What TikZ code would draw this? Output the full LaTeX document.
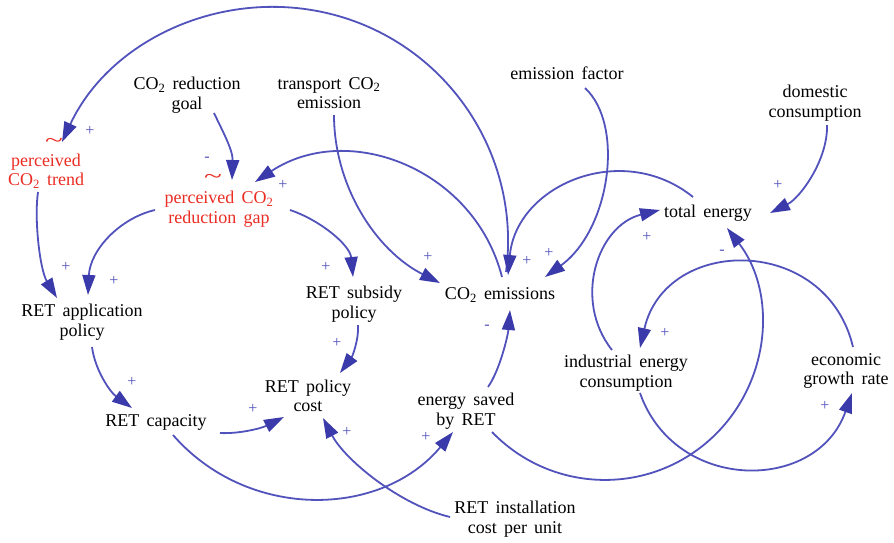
\documentclass[tikz,border=0pt]{standalone}
\usepackage{fontspec}
\setmainfont{Liberation Serif}[WordSpace=1.6]
\usetikzlibrary{arrows.meta,calc}
\definecolor{arrowblue}{RGB}{82,82,188}
\definecolor{headblue}{RGB}{58,58,170}
\definecolor{varred}{RGB}{235,45,35}
\tikzset{
 var/.style={align=center, font=\fontsize{18}{19.5}\selectfont, inner sep=0pt, text=black},
 redvar/.style={var, text=varred},
 tildemark/.style={font=\fontsize{22}{22}\selectfont, text=varred, inner sep=0pt, xscale=1.5},
 link/.style={draw=arrowblue, line width=1.8pt, -{Triangle[length=20pt,width=13pt,color=headblue]}},
 pol/.style={font=\fontsize{16}{16}\selectfont, text=arrowblue, inner sep=0pt},
}
\begin{document}
\begin{tikzpicture}[x=1pt,y=-1pt]
\useasboundingbox[fill=white] (0,0) rectangle (894,542);
% variables
\node[var] (goal) at (187,95) {CO\textsubscript{2} reduction\\goal};
\node[var] (transport) at (329,93) {transport CO\textsubscript{2}\\emission};
\node[var] (factor) at (567,73) {emission factor};
\node[var] (domestic) at (815,103) {domestic\\consumption};
\node[redvar] (trend) at (46,171) {perceived\\CO\textsubscript{2} trend};
\node[redvar] (gap) at (219,209) {perceived CO\textsubscript{2}\\reduction gap};
\node[tildemark] (tilde1) at (54,143) {\textasciitilde};
\node[tildemark] (tilde2) at (213,179) {\textasciitilde};
\node[var] (total) at (708,213) {total energy};
\node[var] (app) at (82,322) {RET application\\policy};
\node[var] (subsidy) at (354,304) {RET subsidy\\policy};
\node[var] (co2) at (500,295) {CO\textsubscript{2} emissions};
\node[var] (industrial) at (626,373) {industrial energy\\consumption};
\node[var] (growth) at (846,371) {economic\\growth rate};
\node[var] (cost) at (308,396) {RET policy\\cost};
\node[var] (capacity) at (156,422) {RET capacity};
\node[var] (saved) at (466,411) {energy saved\\by RET};
\node[var] (install) at (515,519) {RET installation\\cost per unit};
% links
\draw[link] ($(co2)+(6,-23)$) .. controls (521.3,157.6) and (450.5,48.8) .. (339.7,16.4) .. controls (228.9,-16.0) and (110.8,37.4) .. ($(trend)+(16,-29)$);
\draw[link] ($(co2)+(2,-18)$) .. controls (474.4,168.8) and (348,120.2) .. ($(gap)+(36,-27)$);
\draw[link] ($(goal)+(27,18)$) .. controls (222,130) and (233,150) .. ($(gap)+(13,-29)$);
\draw[link] ($(trend)+(-8,21)$) .. controls (34,220) and (40,270) .. ($(app)+(-25,-24)$);
\draw[link] ($(gap)+(-64,1)$) .. controls (120,218) and (90,250) .. ($(app)+(6,-27)$);
\draw[link] ($(gap)+(71,1)$) .. controls (320,220) and (350,245) .. ($(subsidy)+(-1,-27)$);
\draw[link] ($(transport)+(5,22)$) .. controls (334,185) and (375,250) .. ($(co2)+(-60,-12)$);
\draw[link] ($(factor)+(18,15)$) .. controls (625,125) and (610,230) .. ($(co2)+(45,-18)$);
\draw[link] ($(total)+(-15,-16)$) .. controls (622.4,140) and (516.4,184.6) .. ($(co2)+(8,-20)$);
\draw[link] ($(domestic)+(12,22)$) .. controls (828,160) and (800,198) .. ($(total)+(62,0)$);
\draw[link] ($(industrial)+(-14,-23)$) .. controls (572.3,299.9) and (597.8,225.2) .. ($(total)+(-48,-3)$);
\draw[link] ($(growth)+(7,-24)$) .. controls (826.4,234.3) and (665.6,235.1) .. ($(industrial)+(14,-25)$);
\draw[link] ($(industrial)+(14,20)$) .. controls (675.2,493.1) and (816.8,493.1) .. ($(growth)+(6,22)$);
\draw[link] ($(saved)+(26,21)$) .. controls (550,492) and (644.6,496.2) .. (707.7,441.6) .. controls (770.8,387) and (778.1,293.9) .. ($(total)+(19,15)$);
\draw[link] ($(saved)+(22,-24)$) .. controls (500,370) and (508,335) .. ($(co2)+(10,15)$);
\draw[link] ($(app)+(10,25)$) .. controls (95,370) and (110,392) .. ($(capacity)+(-24,-14)$);
\draw[link] ($(capacity)+(64,11)$) .. controls (240,434) and (262,428) .. ($(cost)+(-24,21)$);
\draw[link] ($(subsidy)+(4,21)$) .. controls (359,340) and (352,357) .. ($(cost)+(32,-23)$);
\draw[link] ($(install)+(-65,-2)$) .. controls (400,505) and (345,460) .. ($(cost)+(15,22)$);
\draw[link] ($(capacity)+(17,13)$) .. controls (247.3,520.3) and (380.5,518.7) .. ($(saved)+(-13,21)$);
% polarities
\node[pol] (p1) at (90,131) {+};
\node[pol] (p2) at (283,185) {+};
\node[pol] (p3) at (207,159) {-};
\node[pol] (p4) at (66,267) {+};
\node[pol] (p5) at (114,281) {+};
\node[pol] (p6) at (326,267) {+};
\node[pol] (p7) at (428,257) {+};
\node[pol] (p8) at (549,253) {+};
\node[pol] (p9) at (527,261) {+};
\node[pol] (p10) at (778,185) {+};
\node[pol] (p11) at (647,237) {+};
\node[pol] (p12) at (665,333) {+};
\node[pol] (p13) at (825,406) {+};
\node[pol] (p14) at (722,252) {-};
\node[pol] (p15) at (487,327) {-};
\node[pol] (p16) at (132,382) {+};
\node[pol] (p17) at (253,409) {+};
\node[pol] (p18) at (337,343) {+};
\node[pol] (p19) at (347,432) {+};
\node[pol] (p20) at (426,437) {+};
\end{tikzpicture}
\end{document}
